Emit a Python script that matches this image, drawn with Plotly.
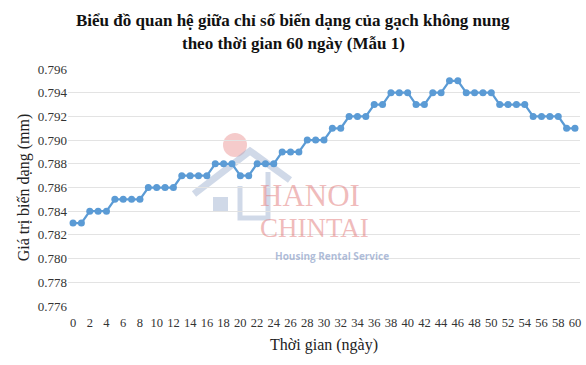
import plotly.graph_objects as go

days = list(range(0, 61))
values = [0.783, 0.783,
          0.784, 0.784, 0.784,
          0.785, 0.785, 0.785, 0.785,
          0.786, 0.786, 0.786, 0.786,
          0.787, 0.787, 0.787, 0.787,
          0.788, 0.788, 0.788,
          0.787, 0.787,
          0.788, 0.788, 0.788,
          0.789, 0.789, 0.789,
          0.790, 0.790, 0.790,
          0.791, 0.791,
          0.792, 0.792, 0.792,
          0.793, 0.793,
          0.794, 0.794, 0.794,
          0.793, 0.793,
          0.794, 0.794,
          0.795, 0.795,
          0.794, 0.794, 0.794, 0.794,
          0.793, 0.793, 0.793, 0.793,
          0.792, 0.792, 0.792, 0.792,
          0.791, 0.791]
x_ticks = list(range(0, 61, 2))
y_ticks = [0.776, 0.778, 0.780, 0.782, 0.784, 0.786, 0.788, 0.790, 0.792, 0.794, 0.796]

title_line1 = "Biểu đồ quan hệ giữa chỉ số biến dạng của gạch không nung"
title_line2 = "theo thời gian 60 ngày (Mẫu 1)"
x_title = "Thời gian (ngày)"
y_title = "Giá trị biến dạng (mm)"

font_family = "Liberation Serif, Times New Roman, serif"

W, H = 586, 365
ML, MR, MT, MB = 68, 6, 69, 59
PW, PH = W - ML - MR, H - MT - MB


def px(x):
    return (x - ML) / PW


def py(y):
    return (H - MB - y) / PH


fig = go.Figure()
fig.add_trace(go.Scatter(
    x=days, y=values, mode="lines+markers",
    line=dict(color="#5B9BD5", width=2.25),
    marker=dict(color="#5B9BD5", size=7),
    showlegend=False,
))

# title as annotations (centered on the whole chart)
fig.add_annotation(xref="paper", yref="paper", x=px(W / 2), y=py(20), text="<b>" + title_line1 + "</b>",
                   showarrow=False, xanchor="center", yanchor="middle",
                   font=dict(family=font_family, size=17, color="#111"))
fig.add_annotation(xref="paper", yref="paper", x=px(W / 2), y=py(44), text="<b>" + title_line2 + "</b>",
                   showarrow=False, xanchor="center", yanchor="middle",
                   font=dict(family=font_family, size=17, color="#111"))

# watermark (faint logo)
wm_blue = "rgba(150,170,205,0.45)"
fig.add_shape(type="circle", xref="paper", yref="paper", layer="below",
              x0=px(223), x1=px(247), y0=py(157), y1=py(133),
              fillcolor="rgba(232,140,140,0.45)", line=dict(width=0))
fig.add_shape(type="path", xref="paper", yref="paper", layer="below",
              path=f"M {px(194)},{py(194)} L {px(250)},{py(151)} L {px(290)},{py(180)}",
              line=dict(color=wm_blue, width=7))
fig.add_shape(type="path", xref="paper", yref="paper", layer="below",
              path=f"M {px(240)},{py(186)} L {px(240)},{py(218)} L {px(268)},{py(218)} L {px(268)},{py(172)}",
              line=dict(color=wm_blue, width=5))
fig.add_shape(type="rect", xref="paper", yref="paper", layer="below",
              x0=px(213), x1=px(228), y0=py(212), y1=py(197),
              fillcolor=wm_blue, line=dict(width=0))
fig.add_annotation(xref="paper", yref="paper", x=px(258), y=py(195), text="HANOI",
                   showarrow=False, xanchor="left", yanchor="middle",
                   font=dict(family=font_family, size=31, color="rgba(225,120,120,0.5)"))
fig.add_annotation(xref="paper", yref="paper", x=px(258), y=py(228), text="CHINTAI",
                   showarrow=False, xanchor="left", yanchor="middle",
                   font=dict(family=font_family, size=27, color="rgba(225,120,120,0.5)"))
fig.add_annotation(xref="paper", yref="paper", x=px(273), y=py(256), text="<b>Housing Rental Service</b>",
                   showarrow=False, xanchor="left", yanchor="middle",
                   font=dict(family="Open Sans, sans-serif", size=10, color="rgba(140,160,200,0.7)"))

fig.update_layout(
    width=W, height=H,
    margin=dict(l=ML, r=MR, t=MT, b=MB),
    paper_bgcolor="white", plot_bgcolor="white",
    font=dict(family=font_family, color="#222"),
    xaxis=dict(
        range=[-0.6, 60.6], tickmode="array", tickvals=x_ticks, ticktext=[str(v) for v in x_ticks],
        showgrid=False, zeroline=False, showline=False, ticks="",
        ticklabelstandoff=7,
        tickfont=dict(size=12.5, color="#333"),
        title=dict(text=x_title, font=dict(size=16, color="#222"), standoff=10),
    ),
    yaxis=dict(
        range=[0.776, 0.796], tickmode="array", tickvals=y_ticks,
        ticktext=[f"{v:.3f}" for v in y_ticks],
        showgrid=True, gridcolor="#E3E3E3", gridwidth=1, zeroline=False, showline=False, ticks="",
        tickfont=dict(size=13, color="#333"),
        title=dict(text=y_title, font=dict(size=16, color="#222"), standoff=4),
    ),
)

fig.write_html("out.html")
